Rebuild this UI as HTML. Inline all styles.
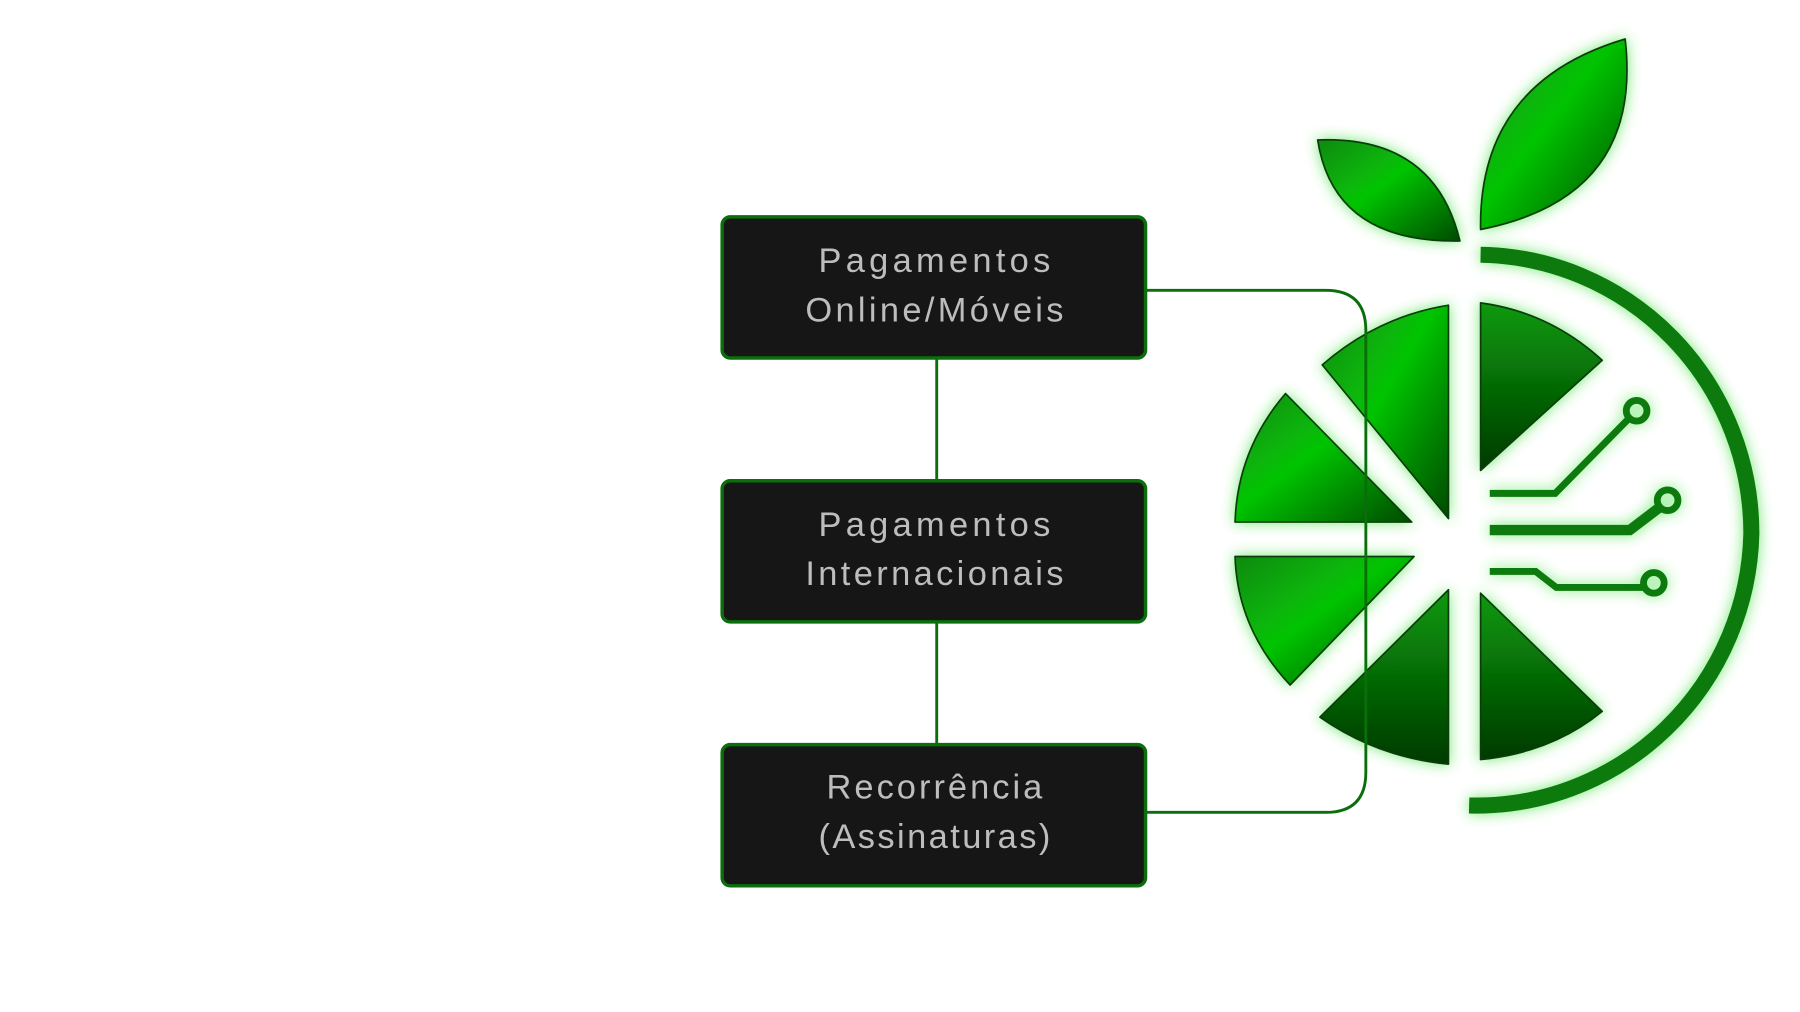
<!DOCTYPE html>
<html><head><meta charset="utf-8"><style>
html,body{margin:0;padding:0;background:#fff;width:1800px;height:1012px;overflow:hidden}
svg{display:block}
</style></head><body>
<svg width="1800" height="1012" viewBox="0 0 1568 882" xmlns="http://www.w3.org/2000/svg">
<defs>
<linearGradient id="g" x1="0" y1="0" x2="1" y2="1">
<stop offset="0" stop-color="#0a8a0a"/><stop offset="0.45" stop-color="#06c406"/><stop offset="1" stop-color="#034a03"/>
</linearGradient>
<linearGradient id="g2" x1="0" y1="0" x2="0" y2="1">
<stop offset="0" stop-color="#0a9a0a"/><stop offset="1" stop-color="#023a02"/>
</linearGradient>
<filter id="glow" x="-20%" y="-20%" width="140%" height="140%">
<feGaussianBlur in="SourceAlpha" stdDeviation="6" result="b"/>
<feFlood flood-color="#3adf3a" flood-opacity="0.7"/>
<feComposite in2="b" operator="in" result="gl"/>
<feMerge><feMergeNode in="gl"/><feMergeNode in="SourceGraphic"/></feMerge>
</filter>
</defs>

<g filter="url(#glow)" stroke="#0c3a0c" stroke-width="1.5" stroke-linejoin="round">
<path d="M1148,122 Q1250,118 1272,210 Q1162,212 1148,122 Z" fill="url(#g)"/>
<path d="M1290,200 Q1288,72 1416,34 Q1432,172 1290,200 Z" fill="url(#g)"/>
<path d="M1262,266 L1262,452 L1152,318 Q1200,276 1262,266 Z" fill="url(#g)"/>
<path d="M1076,455 L1230,455 L1120,343 Q1078,392 1076,455 Z" fill="url(#g)"/>
<path d="M1076,485 L1232,485 L1124,597 Q1078,548 1076,485 Z" fill="url(#g)"/>
<path d="M1262,514 L1262,666 Q1200,660 1150,625 Z" fill="url(#g2)"/>
<path d="M1290,264 L1290,410 L1396,314 Q1350,272 1290,264 Z" fill="url(#g2)"/>
<path d="M1290,517 L1290,662 Q1352,656 1396,620 Z" fill="url(#g2)"/>
</g>
<g filter="url(#glow)" fill="none" stroke="#0a7a0a">
<path d="M1290,222 A240,243 0 0 1 1526,465 A240,243 0 0 1 1280,702" stroke-width="14"/>
<path d="M1298,430 L1355,430 L1418,366" stroke-width="6"/>
<circle cx="1426" cy="358" r="9" stroke-width="6"/>
<path d="M1298,462 L1420,462 L1445,443" stroke-width="9"/>
<circle cx="1453" cy="436" r="9" stroke-width="6"/>
<path d="M1298,498 L1338,498 L1356,512 L1432,512" stroke-width="6"/>
<circle cx="1441" cy="508" r="9" stroke-width="6"/>
</g>

<g fill="none" stroke="#0a6e0a" stroke-width="2.5">
<line x1="816" y1="312" x2="816" y2="419"/>
<line x1="816" y1="542" x2="816" y2="649"/>
<path d="M998,253 L1155,253 Q1190,253 1190,288 L1190,673 Q1190,708 1155,708 L998,708"/>
</g>

<g fill="#161616" stroke="#0a6e0a" stroke-width="3">
<rect x="629" y="189" width="369" height="123" rx="7"/>
<rect x="629" y="419" width="369" height="123" rx="7"/>
<rect x="629" y="649" width="369" height="123" rx="7"/>
</g>
<g fill="#bdbdbd" font-family="Liberation Sans, DejaVu Sans, sans-serif" font-size="30" text-anchor="middle" lengthAdjust="spacing">
<text x="814" y="237" textLength="202">Pagamentos</text>
<text x="814" y="280" textLength="225">Online/Móveis</text>
<text x="814" y="467" textLength="202">Pagamentos</text>
<text x="814" y="510" textLength="225">Internacionais</text>
<text x="814" y="696" textLength="188">Recorrência</text>
<text x="814" y="739" textLength="202">(Assinaturas)</text>
</g>
</svg>
</body></html>
